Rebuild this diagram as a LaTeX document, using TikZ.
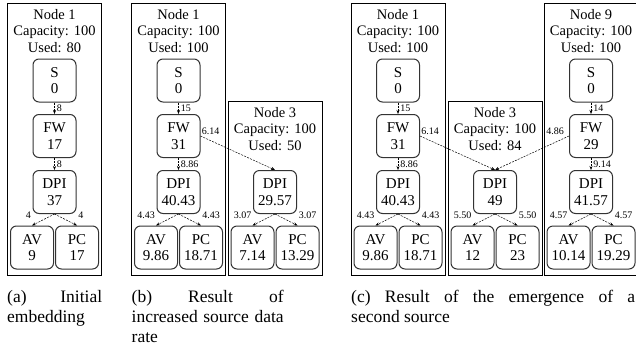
\documentclass[tikz,border=0pt]{standalone}
\usepackage{fontspec}
\setmainfont{Liberation Serif}
\usepackage{xcolor}
\usepackage{amsmath}
\usepackage{tikz}
\usetikzlibrary{arrows.meta}
\hyphenpenalty=10000
\exhyphenpenalty=10000

\begin{document}
\begin{tikzpicture}[x=1pt, y=-1pt,
        host/.style={draw, line width=0.9pt},
        head/.style={anchor=north, align=center, inner sep=0pt, font=\fontsize{14.5}{16.5}\selectfont},
        vnf/.style={draw=black!80, line width=1pt, rounded corners=6pt, minimum width=43pt, minimum height=43pt, inner sep=0pt, align=center, font=\fontsize{15}{16.5}\selectfont},
        flow/.style={-{Stealth[length=4pt, width=3pt]}, line width=0.5pt, dash pattern=on 2pt off 1.2pt},
        lbl/.style={inner sep=1pt, font=\fontsize{10}{11}\selectfont},
        capt/.style={anchor=north west, inner sep=0pt, align=justify, font=\fontsize{17.5}{20}\selectfont}]
        \useasboundingbox (0,0) rectangle (636,362);
        \clip (0,0) rectangle (636,362);
        \foreach \p/\x/\nn/\us/\fw/\dpi/\av/\pc in {a/54.5/1/80/17/37/9/17, b1/178.5/1/100/31/40.43/9.86/18.71, c1/398/1/100/31/40.43/9.86/18.71, c9/591/9/100/29/41.57/10.14/19.29}{
            \path[host] (\x-47,3) rectangle (\x+47,275);
            \node[head] (h\p) at (\x,9) {Node \nn\\Capacity: 100\\Used: \us};
            \node[vnf] (\p S) at (\x,80.5) {S\\0};
            \node[vnf] (\p FW) at (\x,136) {FW\\\fw};
            \node[vnf] (\p DPI) at (\x,192) {DPI\\\dpi};
            \node[vnf] (\p AV) at (\x-22.5,247.5) {AV\\\av};
            \node[vnf] (\p PC) at (\x+22.5,247.5) {PC\\\pc};
        }
        \foreach \p/\x/\us/\dpi/\av/\pc in {b3/275/50/29.57/7.14/13.29, c3/495/84/49/12/23}{
            \path[host] (\x-47,101) rectangle (\x+47,275);
            \node[head] (h\p) at (\x,107) {Node 3\\Capacity: 100\\Used: \us};
            \node[vnf] (\p DPI) at (\x,192) {DPI\\\dpi};
            \node[vnf] (\p AV) at (\x-22.5,247.5) {AV\\\av};
            \node[vnf] (\p PC) at (\x+22.5,247.5) {PC\\\pc};
        }
        \foreach \p/\one/\two in {a/8/8, b1/15/8.86, c1/15/8.86, c9/14/9.14}{
            \path[draw, flow] (\p S.south) -- node[lbl, right, xshift=1pt] {\one} (\p FW.north);
            \path[draw, flow] (\p FW.south) -- node[lbl, right, xshift=1pt] {\two} (\p DPI.north);
        }
        \foreach \p/\leaf in {a/4, b1/4.43, b3/3.07, c1/4.43, c3/5.50, c9/4.57}{
            \path[draw, flow] (\p DPI.south) -- node[lbl, at end, anchor=south east, yshift=6pt] {\leaf} (\p AV.north);
            \path[draw, flow] (\p DPI.south) -- node[lbl, at end, anchor=south west, yshift=6pt] {\leaf} (\p PC.north);
        }
        \path[draw, flow] (b1FW.east) -- node[lbl, at start, anchor=south west] {6.14} (b3DPI.north);
        \path[draw, flow] (c1FW.east) -- node[lbl, at start, anchor=south west] {6.14} (c3DPI.north);
        \path[draw, flow] (c9FW.west) -- node[lbl, at start, anchor=south east, xshift=-4pt] {4.86} (c3DPI.north);
        \node[capt, text width=95pt] (capa) at (7,290) {(a) Initial embedding};
        \node[capt, text width=152pt] (capb) at (131.5,290) {(b) Result of\linebreak increased source data rate};
        \node[capt, text width=284pt] (capc) at (351,290) {(c) Result of the emergence of a\linebreak second source};
\end{tikzpicture}
\end{document}
